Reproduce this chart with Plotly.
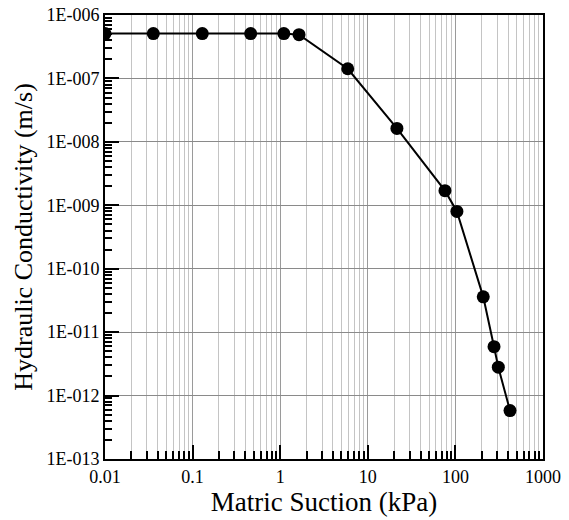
import plotly.graph_objects as go

suction_kpa = [0.01, 0.0356, 0.129, 0.46, 1.1, 1.64, 5.9, 21.5, 76, 104, 208, 276, 309, 420]
conductivity = [5.1e-7, 5.1e-7, 5.1e-7, 5.1e-7, 5.1e-7, 4.9e-7, 1.42e-7, 1.63e-8,
                1.7e-9, 8.0e-10, 3.6e-11, 5.9e-12, 2.8e-12, 5.8e-13]

x_tickvals = [0.01, 0.1, 1, 10, 100, 1000]
x_ticktext = ["0.01", "0.1", "1", "10", "100", "1000"]
y_tickvals = [1e-13, 1e-12, 1e-11, 1e-10, 1e-9, 1e-8, 1e-7, 1e-6]
y_ticktext = ["1E-013", "1E-012", "1E-011", "1E-010", "1E-009", "1E-008", "1E-007", "1E-006"]

font_family = "Liberation Serif"

fig = go.Figure()
fig.add_trace(go.Scatter(
    x=suction_kpa, y=conductivity, mode="lines+markers",
    line=dict(color="black", width=2),
    marker=dict(color="black", size=13),
    showlegend=False,
))

fig.update_layout(
    width=569, height=520,
    margin=dict(l=105, r=26, t=15, b=61),
    paper_bgcolor="white", plot_bgcolor="white",
    font=dict(family=font_family, color="black", size=18),
    xaxis=dict(
        type="log", range=[-2, 3], automargin=False,
        tickvals=x_tickvals, ticktext=x_ticktext,
        ticks="inside", ticklen=14, tickwidth=2, tickcolor="black",
        showline=True, linecolor="black", linewidth=2, mirror=True,
        showgrid=True, gridcolor="#9a9a9a", gridwidth=1,
        minor=dict(dtick="D1", ticks="inside", ticklen=8, tickwidth=2, tickcolor="black",
                   showgrid=True, gridcolor="#c4c4c4", gridwidth=1),
        tickfont=dict(family=font_family, size=18),
        title=dict(text="Matric Suction (kPa)", font=dict(family=font_family, size=27), standoff=0),
        zeroline=False,
    ),
    yaxis=dict(
        type="log", range=[-13, -6], automargin=False,
        tickvals=y_tickvals, ticktext=y_ticktext,
        ticks="inside", ticklen=14, tickwidth=2, tickcolor="black",
        showline=True, linecolor="black", linewidth=2, mirror=True,
        showgrid=True, gridcolor="#8a8a8a", gridwidth=1,
        minor=dict(dtick="D1", ticks="inside", ticklen=7, tickwidth=2, tickcolor="black",
                   showgrid=False),
        tickfont=dict(family=font_family, size=18),
        title=dict(text="Hydraulic Conductivity (m/s)", font=dict(family=font_family, size=26), standoff=6),
        zeroline=False,
    ),
)

fig.write_html("out.html")
